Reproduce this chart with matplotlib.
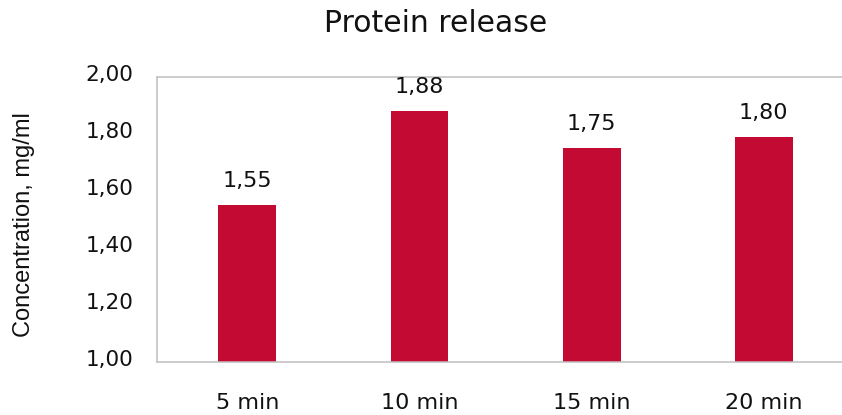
import matplotlib
matplotlib.use("Agg")
import matplotlib.pyplot as plt
import matplotlib.transforms as mtransforms

categories = ["5 min", "10 min", "15 min", "20 min"]
values = [1.55, 1.88, 1.75, 1.79]
value_labels = ["1,55", "1,88", "1,75", "1,80"]
yticks = [1.00, 1.20, 1.40, 1.60, 1.80, 2.00]
ytick_labels = ["1,00", "1,20", "1,40", "1,60", "1,80", "2,00"]

bar_color = "#C20A33"
spine_color = "#BFBFBF"
font = "DejaVu Sans"

W, H = 842, 415
fig = plt.figure(figsize=(W / 100, H / 100), dpi=100)
left, bottom, top = 157 / W, (H - 362) / H, (H - 76.7) / H
ax = fig.add_axes([left, bottom, 1 - left, top - bottom])

x = list(range(len(categories)))
ax.bar(x, values, width=0.337, color=bar_color, zorder=2)

ax.set_ylim(1.0, 2.0)
ax.set_xlim(-0.526, 3.456)
ax.set_yticks(yticks)
ax.set_yticklabels(ytick_labels, fontsize=15.5, family=font, color="#111111")
ax.set_xticks(x)
ax.set_xticklabels(categories, fontsize=16, family=font, color="#111111")
ax.tick_params(axis="y", length=0, pad=17)
ax.tick_params(axis="x", length=0, pad=22)

for lab in ax.get_yticklabels():
    lab.set_transform(lab.get_transform() + mtransforms.ScaledTranslation(0, 4 / 100, fig.dpi_scale_trans))

for s in ["left", "top", "bottom"]:
    ax.spines[s].set_color(spine_color)
    ax.spines[s].set_linewidth(1.1)
ax.spines["right"].set_visible(False)

for xi, v, t in zip(x, values, value_labels):
    ax.annotate(t, (xi, v), xytext=(0, 10), textcoords="offset points",
                ha="center", va="bottom", fontsize=16, family=font, color="#111111")

fig.text(0.5 * (325 + 547) / W, 1 - 24 / H, "Protein release", ha="center", va="center",
         fontsize=21.5, family=font, color="#111111")
fig.text(24 / W, 1 - 225 / H, "Concentration, mg/ml", rotation=90, ha="center", va="center",
         fontsize=17, family="Liberation Sans", color="#111111")

fig.savefig("out.png", dpi=100)
